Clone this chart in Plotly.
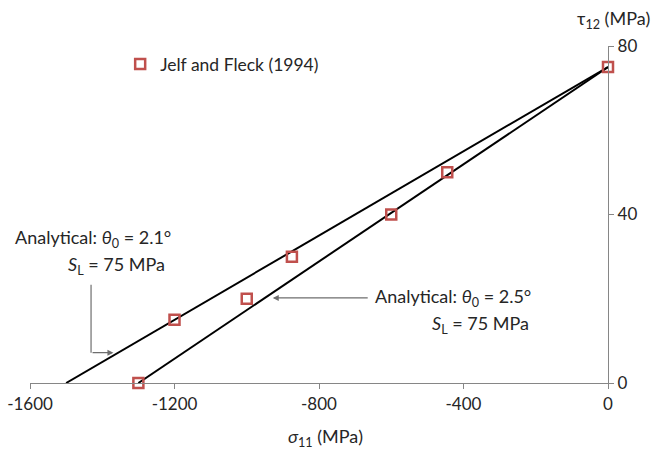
import plotly.graph_objects as go

# Data
line21_x = [-1500, -1200, -900, -600, -300, 0]
line21_y = [0, 15, 30, 45, 60, 75]
line25_x = [-1300, -1000, -700, -400, -200, 0]
line25_y = [0, 17.3, 34.6, 51.9, 63.5, 75]
exp_x = [-1300, -1200, -1000, -875, -600, -445, 0]
exp_y = [0, 15, 20, 30, 40, 50, 75]
x_ticks = [-1600, -1200, -800, -400, 0]
y_ticks = [0, 40, 80]

FONT = "Lato"
TXT = "#262626"
AX = "#868686"

fig = go.Figure()
fig.add_trace(go.Scatter(x=line21_x, y=line21_y, mode="lines",
                         line=dict(color="black", width=2), showlegend=False))
fig.add_trace(go.Scatter(x=line25_x, y=line25_y, mode="lines",
                         line=dict(color="black", width=2), showlegend=False))
fig.add_trace(go.Scatter(x=exp_x, y=exp_y, mode="markers", name="Jelf and Fleck (1994)",
                         marker=dict(symbol="square-open", size=10, color="#c0504d",
                                     line=dict(width=2.5, color="#c0504d")),
                         cliponaxis=False))

fig.update_layout(
    width=657, height=457,
    margin=dict(l=30, r=49, t=46, b=74, autoexpand=False),
    plot_bgcolor="white", paper_bgcolor="white",
    font=dict(family=FONT, size=16, color=TXT),
    showlegend=True,
    legend=dict(x=0.156, y=1.0, xanchor="left", yanchor="top",
                bgcolor="rgba(0,0,0,0)", font=dict(size=17.5, family=FONT, color=TXT)),
    xaxis=dict(range=[-1600, 0], tickvals=x_ticks, ticktext=[str(v) for v in x_ticks],
               automargin=False,
               showgrid=False, zeroline=False, showline=True, linecolor=AX, linewidth=1.3,
               ticks="outside", ticklen=5, tickcolor=AX, tickfont=dict(size=17, family=FONT, color=TXT)),
    yaxis=dict(range=[0, 80], tickvals=y_ticks, side="right", automargin=False,
               showgrid=False, zeroline=False, showline=True, linecolor=AX, linewidth=1.3,
               ticks="outside", ticklen=5, tickcolor=AX, tickfont=dict(size=17, family=FONT, color=TXT)),
)

ann = []
# Axis titles
ann.append(dict(x=1.0, y=1.0, xref="paper", yref="paper", xanchor="center", yanchor="bottom",
                xshift=5, yshift=12,
                text="τ<sub>12</sub> (MPa)", showarrow=False, font=dict(size=18, family=FONT, color=TXT)))
ann.append(dict(x=0.5, y=0, xref="paper", yref="paper", xanchor="center", yanchor="top",
                xshift=6, yshift=-40,
                text="<i>σ</i><sub>11</sub> (MPa)", showarrow=False, font=dict(size=18, family=FONT, color=TXT)))
# Annotation 2.1
ann.append(dict(x=-1600, y=34.3, xref="x", yref="y", xanchor="left", yanchor="middle", xshift=-17,
                text="Analytical: <i>θ</i><sub>0</sub> = 2.1°", showarrow=False,
                font=dict(size=18, family=FONT, color=TXT)))
ann.append(dict(x=-1600, y=27.9, xref="x", yref="y", xanchor="left", yanchor="middle", xshift=36,
                text="<i>S</i><sub>L</sub> = 75 MPa", showarrow=False,
                font=dict(size=18, family=FONT, color=TXT)))
# Annotation 2.5
ann.append(dict(x=-650, y=20.2, xref="x", yref="y", xanchor="left", yanchor="middle",
                text="Analytical: <i>θ</i><sub>0</sub> = 2.5°", showarrow=False,
                font=dict(size=18, family=FONT, color=TXT)))
ann.append(dict(x=-494, y=13.8, xref="x", yref="y", xanchor="left", yanchor="middle",
                text="<i>S</i><sub>L</sub> = 75 MPa", showarrow=False,
                font=dict(size=18, family=FONT, color=TXT)))
# Arrows
ann.append(dict(x=-928, y=20.2, ax=-661, ay=20.2, xref="x", yref="y", axref="x", ayref="y",
                text="", showarrow=True, arrowhead=2, arrowsize=1, arrowwidth=1.2, arrowcolor="#6e6e6e"))
ann.append(dict(x=-1369, y=7.2, ax=-1431, ay=7.2, xref="x", yref="y", axref="x", ayref="y",
                text="", showarrow=True, arrowhead=2, arrowsize=1, arrowwidth=1.2, arrowcolor="#6e6e6e"))
fig.update_layout(annotations=ann)
fig.add_shape(type="line", x0=-1431, x1=-1431, y0=23.3, y1=7.2, xref="x", yref="y",
              line=dict(color="#6e6e6e", width=1.2))

fig.write_html("out.html", config={"displayModeBar": False},
               post_script="document.body.style.margin='0';")
